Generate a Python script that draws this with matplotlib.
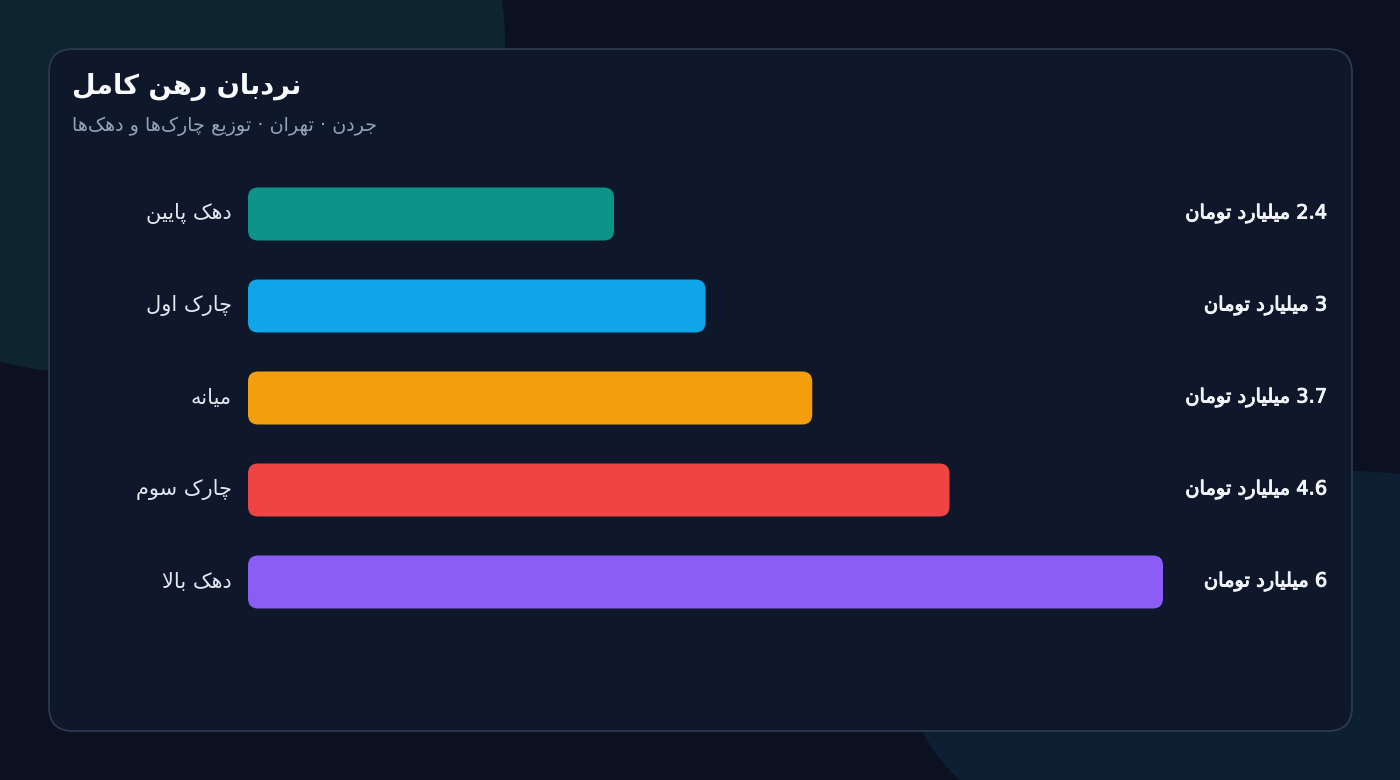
import matplotlib
matplotlib.use("Agg")
import matplotlib.pyplot as plt
from matplotlib.patches import FancyBboxPatch, Ellipse
from matplotlib import transforms
import matplotlib.patheffects as pe

# ---- data ----
title = "نردبان رهن کامل"
subtitle = "جردن · تهران · توزیع چارک\u200cها و دهک\u200cها"
labels = ["دهک پایین", "چارک اول", "میانه", "چارک سوم", "دهک بالا"]
values = [2.4, 3.0, 3.7, 4.6, 6.0]
value_labels = ["2.4 میلیارد تومان", "3 میلیارد تومان", "3.7 میلیارد تومان",
                "4.6 میلیارد تومان", "6 میلیارد تومان"]
colors = ["#0d9488", "#0ea5e9", "#f59e0b", "#ef4444", "#8b5cf6"]

# ---- minimal arabic/persian shaping (matplotlib has no text shaping) ----
# (isolated, final, initial, medial); None for initial/medial = right-joining
FORMS = {
    "\u0627": ("\uFE8D", "\uFE8E", None, None),            # alef
    "\u0628": ("\uFE8F", "\uFE90", "\uFE91", "\uFE92"),    # beh
    "\u062A": ("\uFE95", "\uFE96", "\uFE97", "\uFE98"),    # teh
    "\u062C": ("\uFE9D", "\uFE9E", "\uFE9F", "\uFEA0"),    # jeem
    "\u062F": ("\uFEA9", "\uFEAA", None, None),            # dal
    "\u0631": ("\uFEAD", "\uFEAE", None, None),            # reh
    "\u0632": ("\uFEAF", "\uFEB0", None, None),            # zain
    "\u0633": ("\uFEB1", "\uFEB2", "\uFEB3", "\uFEB4"),    # seen
    "\u0639": ("\uFEC9", "\uFECA", "\uFECB", "\uFECC"),    # ain
    "\u0644": ("\uFEDD", "\uFEDE", "\uFEDF", "\uFEE0"),    # lam
    "\u0645": ("\uFEE1", "\uFEE2", "\uFEE3", "\uFEE4"),    # meem
    "\u0646": ("\uFEE5", "\uFEE6", "\uFEE7", "\uFEE8"),    # noon
    "\u0647": ("\uFEE9", "\uFEEA", "\uFEEB", "\uFEEC"),    # heh
    "\u0648": ("\uFEED", "\uFEEE", None, None),            # waw
    "\u067E": ("\uFB56", "\uFB57", "\uFB58", "\uFB59"),    # peh
    "\u0686": ("\uFB7A", "\uFB7B", "\uFB7C", "\uFB7D"),    # tcheh
    "\u06A9": ("\uFB8E", "\uFB8F", "\uFB90", "\uFB91"),    # keheh
    "\u0643": ("\uFB8E", "\uFB8F", "\uFB90", "\uFB91"),
    "\u06CC": ("\uFBFC", "\uFBFD", "\uFBFE", "\uFBFF"),    # farsi yeh
    "\u064A": ("\uFBFC", "\uFBFD", "\uFBFE", "\uFBFF"),
}
LAM, ALEF = "\u0644", "\u0627"


def dual(ch):
    return ch in FORMS and FORMS[ch][2] is not None


def shape_word(word):
    out = []
    i = 0
    n = len(word)
    while i < n:
        ch = word[i]
        if ch not in FORMS:
            if ch != "\u200c":
                out.append(ch)
            i += 1
            continue
        prev = word[i - 1] if i > 0 else ""
        joins_prev = dual(prev)
        if ch == LAM and i + 1 < n and word[i + 1] == ALEF:
            out.append("\uFEFC" if joins_prev else "\uFEFB")
            i += 2
            continue
        nxt = word[i + 1] if i + 1 < n else ""
        joins_next = dual(ch) and nxt in FORMS
        iso, fin, ini, med = FORMS[ch]
        if joins_prev and joins_next:
            out.append(med)
        elif joins_prev:
            out.append(fin)
        elif joins_next:
            out.append(ini)
        else:
            out.append(iso)
        i += 1
    return "".join(out)


def rtl(text):
    words = []
    for w in text.split(" "):
        if any(c in FORMS for c in w):
            words.append(shape_word(w)[::-1])
        else:
            words.append(w)
    return " ".join(words[::-1])


# ---- figure ----
W, H = 1400, 780
fig = plt.figure(figsize=(W / 100, H / 100), dpi=100)
fig.patch.set_facecolor("#0b1120")
plt.rcParams["font.family"] = ["DejaVu Sans"]

bg = fig.add_axes([0, 0, 1, 1])
bg.set_xlim(0, W)
bg.set_ylim(H, 0)
bg.axis("off")
bg.add_patch(Ellipse((110, 40), 790, 670, facecolor="#0e2530", edgecolor="none"))
bg.add_patch(Ellipse((1320, 680), 820, 420, facecolor="#0c1f33", edgecolor="none"))
bg.add_patch(FancyBboxPatch((49, 49), 1303, 682,
                            boxstyle="round,pad=0,rounding_size=24",
                            facecolor="#0f172a", edgecolor="#2c3a4e", lw=1.3))

bg.text(72, 87, rtl(title), ha="left", va="center", fontsize=19.5,
        fontweight="bold", color="#f8fafc")
bg.text(72, 126, rtl(subtitle), ha="left", va="center", fontsize=13.8,
        color="#94a3b8")

# bar axes: x spans 248..1163 px for 0..6, rows every 92 px starting at 214
x0, x1 = 248, 1163
y_top, y_bot = 168, 628
ax = fig.add_axes([x0 / W, 1 - y_bot / H, (x1 - x0) / W, (y_bot - y_top) / H])
ax.set_xlim(0, max(values))
ax.set_ylim(len(values) - 0.5, -0.5)
ax.axis("off")
ax.patch.set_alpha(0)

ypos = list(range(len(values)))
bars = ax.barh(ypos, values, height=53 / 92, color=colors)

px_x = (x1 - x0) / max(values)
px_y = (y_bot - y_top) / len(values)
r_px = 10
for rect in bars:
    rect.set_visible(False)
    ax.add_patch(FancyBboxPatch((rect.get_x(), rect.get_y()), rect.get_width(), rect.get_height(),
                                boxstyle=f"round,pad=0,rounding_size={r_px / px_x}",
                                mutation_aspect=px_x / px_y,
                                facecolor=rect.get_facecolor(), edgecolor="none"))

lab_tr = transforms.offset_copy(ax.transData, fig=fig, x=-16, y=0, units="dots")
val_tr = transforms.blended_transform_factory(fig.transFigure, ax.transData)
semi_bold = [pe.withStroke(linewidth=0.7, foreground="#f1f5f9")]
for i, (lab, vl) in enumerate(zip(labels, value_labels)):
    ax.text(0, i, rtl(lab), transform=lab_tr, ha="right", va="center",
            fontsize=15, color="#e2e8f0")
    ax.text(1328 / W, i, rtl(vl), transform=val_tr, ha="right", va="center",
            fontsize=14, color="#f1f5f9", path_effects=semi_bold)

fig.savefig("out.png", dpi=100, facecolor=fig.get_facecolor())
